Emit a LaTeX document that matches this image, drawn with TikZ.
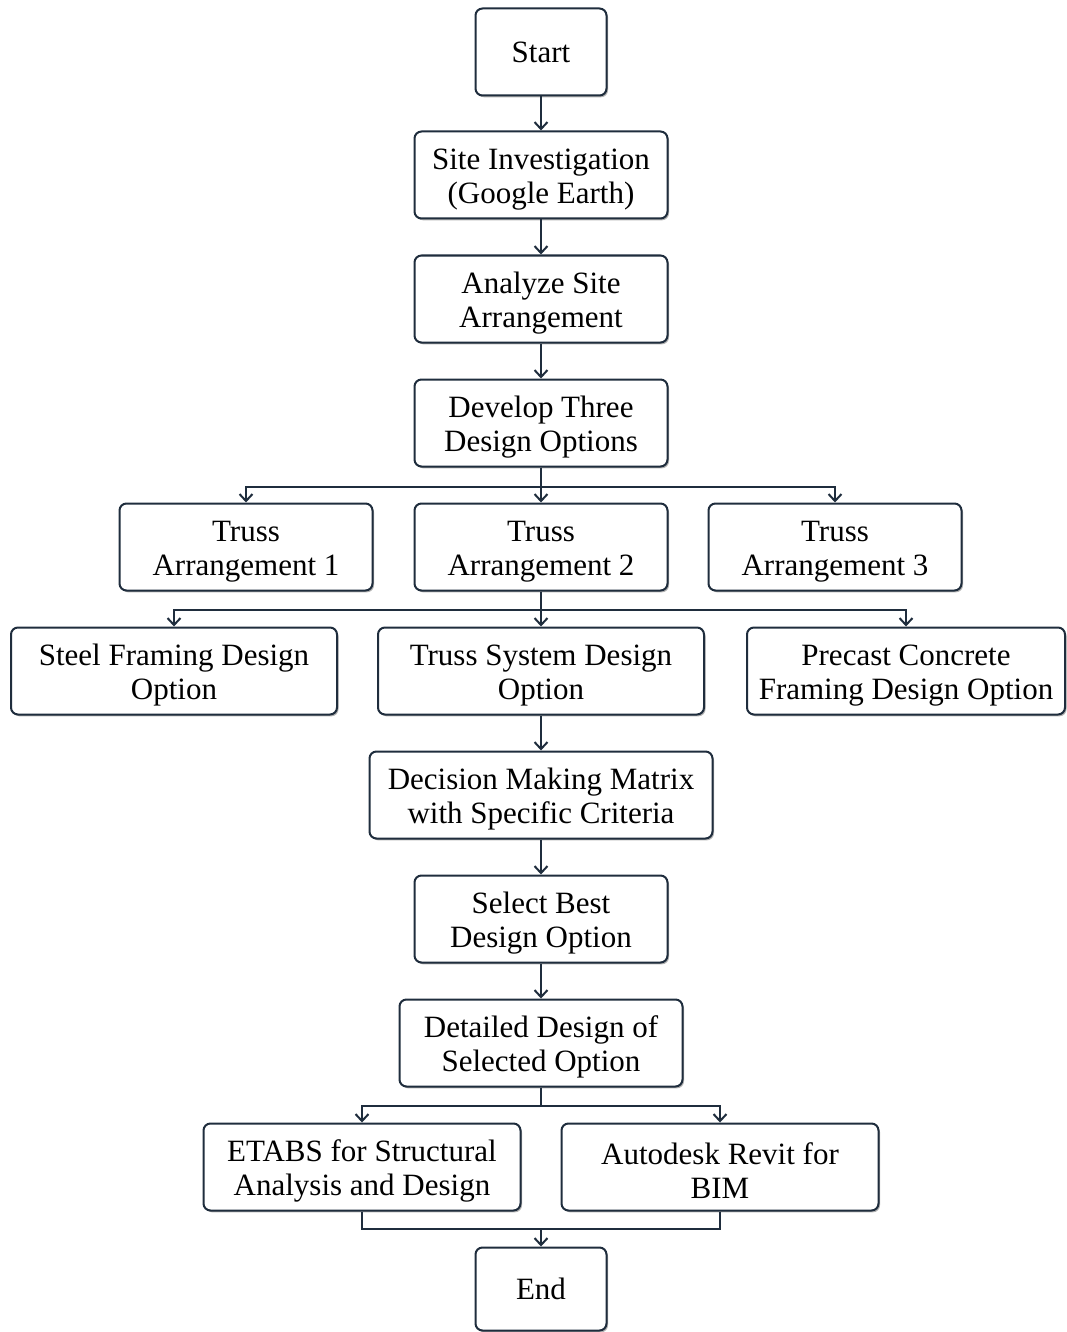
\documentclass[tikz,border=0pt]{standalone}
\usepackage{fontspec}
\setmainfont{Liberation Serif}
\usetikzlibrary{arrows.meta, shadows}
\definecolor{navy}{HTML}{1F2D3D}
\newcommand\toprow{\rule{0pt}{29pt}}

\begin{document}
\begin{tikzpicture}[x=1pt, y=-1pt, >={Straight Barb[length=7pt, width=13pt]},
    box/.style={draw=navy, line width=2pt, rounded corners=7pt, fill=white,
        minimum height=87pt, inner sep=0pt, align=center,
        font=\fontsize{31}{34}\selectfont,
        drop shadow={shadow xshift=1.5pt, shadow yshift=-1.8pt, fill=gray!60, opacity=1}},
    link/.style={draw=navy, line width=2pt}]
    \useasboundingbox (0,0) rectangle (1066,1332);

    \node[box, minimum width=131pt] (start) at (541,52) {Start};
    \node[box, minimum width=253pt] (site) at (541,175) {\toprow Site Investigation\\(Google Earth)};
    \node[box, minimum width=253pt] (analyze) at (541,299) {\toprow Analyze Site\\Arrangement};
    \node[box, minimum width=253pt] (develop) at (541,423) {\toprow Develop Three\\Design Options};

    \node[box, minimum width=253pt] (truss1) at (246,547) {\toprow Truss\\Arrangement 1};
    \node[box, minimum width=253pt] (truss2) at (541,547) {\toprow Truss\\Arrangement 2};
    \node[box, minimum width=253pt] (truss3) at (835,547) {\toprow Truss\\Arrangement 3};

    \node[box, minimum width=326pt] (steel) at (174,671) {\toprow Steel Framing Design\\Option};
    \node[box, minimum width=326pt] (trusssys) at (541,671) {\toprow Truss System Design\\Option};
    \node[box, minimum width=318pt] (precast) at (906,671) {\toprow Precast Concrete\\Framing Design Option};

    \node[box, minimum width=343pt] (decision) at (541,795) {\toprow Decision Making Matrix\\with Specific Criteria};
    \node[box, minimum width=253pt] (select) at (541,919) {\toprow Select Best\\Design Option};
    \node[box, minimum width=283pt] (detailed) at (541,1043) {\toprow Detailed Design of\\Selected Option};

    \node[box, minimum width=317pt] (etabs) at (362,1167) {\toprow ETABS for Structural\\Analysis and Design};
    \node[box, minimum width=317pt] (revit) at (720,1167) {\toprow Autodesk Revit for\\BIM};
    \node[box, minimum width=131pt, minimum height=83pt] (stop) at (541,1289) {End};

    % main line
    \draw[link,->] (start) -- (site);
    \draw[link,->] (site) -- (analyze);
    \draw[link,->] (analyze) -- (develop);
    \draw[link,->] (develop) -- (truss2);
    \draw[link,->] (develop.south) -- ++(0,19) -| (truss1.north);
    \draw[link,->] (develop.south) -- ++(0,19) -| (truss3.north);

    \draw[link,->] (truss2) -- (trusssys);
    \draw[link,->] (truss2.south) -- ++(0,18) -| (steel.north);
    \draw[link,->] (truss2.south) -- ++(0,18) -| (precast.north);

    \draw[link,->] (trusssys) -- (decision);
    \draw[link,->] (decision) -- (select);
    \draw[link,->] (select) -- (detailed);

    \draw[link,->] (detailed.south) -- ++(0,18) -| (etabs.north);
    \draw[link,->] (detailed.south) -- ++(0,18) -| (revit.north);

    % merge into end
    \coordinate (join) at (541,1229);
    \draw[link] (etabs.south) |- (join);
    \draw[link] (revit.south) |- (join);
    \draw[link,->] (join) -- (stop);
\end{tikzpicture}
\end{document}
